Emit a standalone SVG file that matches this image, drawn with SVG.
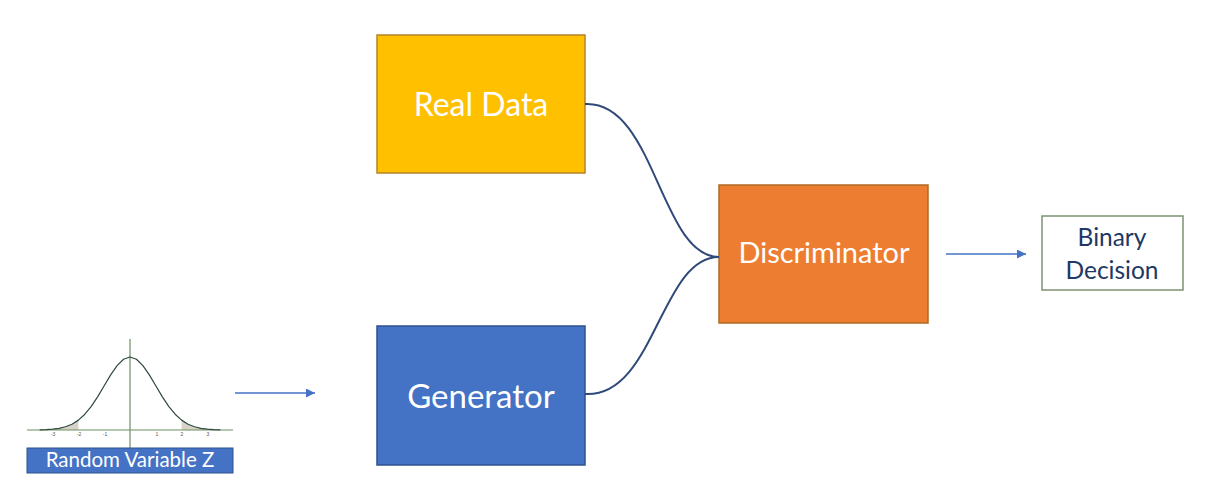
<svg xmlns="http://www.w3.org/2000/svg" width="1220" height="487" viewBox="0 0 1220 487">
<style>
.lbl{font-family:Lato,"Open Sans","Liberation Sans",sans-serif;fill:#fff;text-anchor:middle}
.dark{fill:#203864}
.conn{fill:none;stroke:#2F4A7A;stroke-width:2}
.arr{fill:none;stroke:#4472C4;stroke-width:1.3}
.tick{font-family:"Liberation Sans",sans-serif;font-size:5px;fill:#555;text-anchor:middle}
</style>
<defs>
<marker id="ah" viewBox="0 0 10 10" refX="10" refY="5" markerWidth="9" markerHeight="9" markerUnits="userSpaceOnUse" orient="auto">
<path d="M0,0 L10,5 L0,10 z" fill="#4472C4"/>
</marker>
</defs>
<rect width="1220" height="487" fill="#fff"/>
<g id="random-z">
<path d="M39.7,429.84 L46.15,429.63 L52.6,429.19 L59.05,428.34 L65.5,426.79 L71.95,424.19 L78.4,420.12 L78.4,430 L39.7,430 z" fill="#D8D3C8"/>
<path d="M181.6,420.12 L188.05,424.19 L194.5,426.79 L200.95,428.34 L207.4,429.19 L213.85,429.63 L220.3,429.84 L220.3,430 L181.6,430 z" fill="#D8D3C8"/>
<line x1="27" y1="430" x2="233" y2="430" stroke="#6F8F60" stroke-width="1.2"/>
<line x1="130" y1="339" x2="130" y2="448" stroke="#6F8F60" stroke-width="1.2"/>
<path d="M39.7,429.84 L46.15,429.63 L52.6,429.19 L59.05,428.34 L65.5,426.79 L71.95,424.19 L78.4,420.12 L84.85,414.21 L91.3,406.3 L97.75,396.58 L104.2,385.72 L110.65,374.9 L117.1,365.58 L123.55,359.25 L130,357 L136.45,359.25 L142.9,365.58 L149.35,374.9 L155.8,385.72 L162.25,396.58 L168.7,406.3 L175.15,414.21 L181.6,420.12 L188.05,424.19 L194.5,426.79 L200.95,428.34 L207.4,429.19 L213.85,429.63 L220.3,429.84" fill="none" stroke="#2E4A3E" stroke-width="1.2" stroke-linejoin="round"/>
<text class="tick" x="53" y="436">-3</text>
<text class="tick" x="79" y="436">-2</text>
<text class="tick" x="105" y="436">-1</text>
<text class="tick" x="157" y="436">1</text>
<text class="tick" x="182" y="436">2</text>
<text class="tick" x="208" y="436">3</text>
<rect x="27" y="448" width="206" height="25" fill="#4472C4" stroke="#2F528F" stroke-width="1"/>
<text class="lbl" x="130" y="467" font-size="20.5">Random Variable Z</text>
</g>
<g id="real-data">
<rect x="377" y="35" width="208" height="138" fill="#FFC000" stroke="#B5832A" stroke-width="1.5"/>
<text class="lbl" x="481" y="116" font-size="32">Real Data</text>
</g>
<g id="generator">
<rect x="377" y="326" width="208" height="139" fill="#4472C4" stroke="#2F528F" stroke-width="1.5"/>
<text class="lbl" x="481" y="408" font-size="33">Generator</text>
</g>
<g id="discriminator">
<rect x="719" y="185" width="209" height="138" fill="#ED7D31" stroke="#AE6A25" stroke-width="1.5"/>
<text class="lbl" x="824" y="263" font-size="29">Discriminator</text>
</g>
<g id="binary-decision">
<rect x="1042" y="216" width="141" height="74" fill="#fff" stroke="#7C9270" stroke-width="1.5"/>
<text class="lbl dark" x="1112" y="246" font-size="24.5">Binary</text>
<text class="lbl dark" x="1112" y="279" font-size="24.5">Decision</text>
</g>
<g id="connectors">
<path class="conn" d="M585,104 C655,100 660,257 719,257"/>
<path class="conn" d="M585,394 C655,398 660,257 719,257"/>
<line class="arr" x1="235" y1="393" x2="315" y2="393" marker-end="url(#ah)"/>
<line class="arr" x1="946" y1="254" x2="1026" y2="254" marker-end="url(#ah)"/>
</g>
</svg>
